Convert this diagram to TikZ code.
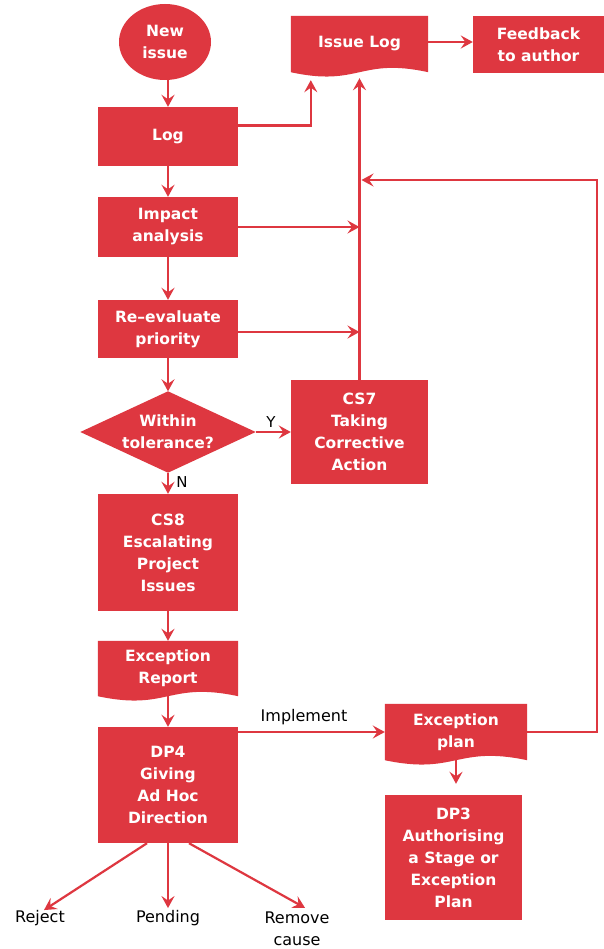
\documentclass[tikz,border=0pt]{standalone}
\usepackage{fontspec}
\setmainfont{DejaVu Sans}
\usetikzlibrary{arrows.meta,calc,backgrounds,shapes.geometric}
\definecolor{pr}{RGB}{222,55,64}
\newcommand\docfill[1]{\fill[pr] (#1.north west) -- (#1.north east) -- (#1.south east) .. controls ($(#1.south)+(0,-15)$) and ($(#1.south)+(0,15)$) .. (#1.south west) -- cycle;}
\begin{document}
\begin{tikzpicture}[x=1pt,y=-1pt,
  wtxt/.style={text=white, font=\fontsize{15.5}{22}\selectfont\bfseries, align=center, inner sep=0pt},
  box/.style n args={2}{wtxt, fill=pr, minimum width=#1pt, minimum height=#2pt},
  doc/.style n args={2}{wtxt, minimum width=#1pt, minimum height=#2pt},
  lab/.style={text=black, font=\fontsize{16}{22}\selectfont, align=center, inner sep=2pt},
  small/.style={text=black, font=\fontsize{15}{17}\selectfont, inner sep=0pt},
  arr/.style={draw=pr, line width=2.2pt, -{Stealth[length=12pt,width=13pt,inset=4.5pt]}}
]
\useasboundingbox (0,0) rectangle (604,949);

\node[wtxt, ellipse, fill=pr, minimum width=92pt, minimum height=76pt] (new) at (165,42) {New\\issue};
\node[box={140}{59}] (log) at (168,136.5) {Log};
\node[box={140}{60}] (imp) at (168,227) {Impact\\analysis};
\node[box={140}{58}] (rev) at (168,329) {Re–evaluate\\priority};
\node[doc={175}{81}] (dia) at (168,432) {Within\\tolerance?};
\node[box={137}{104}] (cs7) at (359.5,432) {CS7\\Taking\\Corrective\\Action};
\node[doc={137}{56}] (il) at (359.5,44) {Issue Log};
\node[box={131}{57}] (fb) at (538.5,44.5) {Feedback\\to author};
\node[box={140}{117}] (cs8) at (168,552.5) {CS8\\Escalating\\Project\\Issues};
\node[doc={140}{55}] (exr) at (168,668.5) {Exception\\Report};
\node[box={140}{116}] (dp4) at (168,785) {DP4\\Giving\\Ad Hoc\\Direction};
\node[doc={142}{56}] (exp) at (456,732) {Exception\\plan};
\node[box={137}{125}] (dp3) at (453.5,857.5) {DP3\\Authorising\\a Stage or\\Exception\\Plan};

\begin{pgfonlayer}{background}
\fill[white] (0,0) rectangle (604,949);
\docfill{il}
\docfill{exr}
\docfill{exp}
\fill[pr] (dia.north) -- (dia.east) -- (dia.south) -- (dia.west) -- cycle;
\end{pgfonlayer}

\node[lab] (rej) at (40,918) {Reject};
\node[lab] (pen) at (168,918) {Pending};
\node[lab] (rem) at (297,929) {Remove\\cause};
\node[lab] (impl) at (304,717) {Implement};
\node[small] (ylab) at (271,422) {Y};
\node[small] (nlab) at (182,482) {N};

\coordinate (cr) at (597,180);

\draw[arr] ([xshift=3pt]new.south) -- ([xshift=3pt]new.south |- log.north);
\draw[arr] (log) -- (imp);
\draw[arr] (imp) -- (rev);
\draw[arr] (rev) -- (dia.north);
\draw[arr] (dia.south) -- (cs8);
\draw[arr] (cs8) -- (exr);
\draw[arr] (exr.south) -- (dp4);
\draw[arr] (dia.east) -- (cs7.west);
\draw[arr, shorten >=6pt] (cs7.north) -- (il.south);
\draw[arr] (imp.east) -- (imp.east -| cs7.north);
\draw[arr] ([yshift=-3pt]rev.east) -- ([yshift=-3pt]rev.east -| cs7.north);
\draw[arr] ($(log.east)+(0,-11)$) -| ($(il.south west)+(20,8)$);
\draw[arr] ([yshift=2pt]il.east) -- ([yshift=2pt]il.east -| fb.west);
\draw[arr, shorten >=2pt] (exp.east) -| (cr) -- (cr -| cs7.north);
\draw[arr] (dp4.east |- exp.west) -- (exp.west);
\draw[arr, shorten >=11pt] (exp.south) -- (exp.south |- dp3.north);
\draw[arr] ($(dp4.south)+(-21,0)$) -- ($(rej.north)+(4,2)$);
\draw[arr] (dp4.south) -- (pen.north);
\draw[arr] ($(dp4.south)+(21,0)$) -- ($(rem.north)+(8,-2)$);
\end{tikzpicture}
\end{document}
